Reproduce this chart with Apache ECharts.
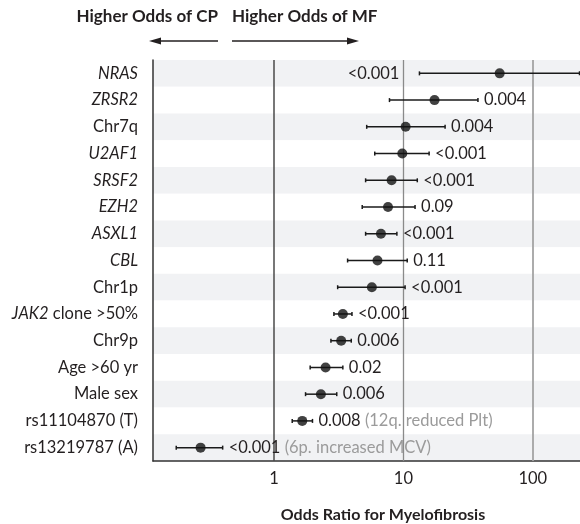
<!DOCTYPE html>
<html>
<head>
<meta charset="utf-8">
<script src="https://cdn.jsdelivr.net/npm/echarts@6/dist/echarts.min.js"></script>
<style>
  html, body { margin: 0; padding: 0; background: #fff; }
  #chart { width: 580px; height: 524px; }
</style>
</head>
<body>
<div id="chart"></div>
<script>
// rows, top to bottom
var categories = ['NRAS', 'ZRSR2', 'Chr7q', 'U2AF1', 'SRSF2', 'EZH2', 'ASXL1', 'CBL', 'Chr1p',
  'JAK2 clone >50%', 'Chr9p', 'Age >60 yr', 'Male sex', 'rs11104870 (T)', 'rs13219787 (A)'];
// part of the label set in italics (gene names)
var italicPart = ['NRAS', 'ZRSR2', '', 'U2AF1', 'SRSF2', 'EZH2', 'ASXL1', 'CBL', '', 'JAK2', '', '', '', '', ''];

var oddsRatio = [55.5, 17.4, 10.4, 9.8, 8.1, 7.6, 6.7, 6.3, 5.7, 3.4, 3.3, 2.5, 2.3, 1.65, 0.27];
var ciLow = [13.3, 7.8, 5.2, 6.0, 5.1, 4.8, 5.1, 3.7, 3.1, 2.9, 2.75, 1.9, 1.75, 1.38, 0.175];
var ciHigh = [230, 37.7, 21.0, 15.8, 12.8, 12.3, 8.9, 10.7, 10.3, 4.0, 3.95, 3.4, 3.05, 1.98, 0.40];
var pValues = ['<0.001', '0.004', '0.004', '<0.001', '<0.001', '0.09', '<0.001', '0.11', '<0.001',
  '<0.001', '0.006', '0.02', '0.006', '0.008', '<0.001'];
var notes = ['', '', '', '', '', '', '', '', '', '', '', '', '', '(12q. reduced Plt)', '(6p. increased MCV)'];

var xTicks = [1, 10, 100];

var FONT = 'Lato';
var FS = 16.5;
var INK = '#231f20';

var chart = echarts.init(document.getElementById('chart'));

var ciData = categories.map(function (c, i) { return [ciLow[i], ciHigh[i], i]; });
var dotData = categories.map(function (c, i) { return [oddsRatio[i], i]; });

var option = {
  animation: false,
  grid: { left: 153, right: 0, top: 60, bottom: 63 },
  xAxis: {
    type: 'log',
    logBase: 10,
    min: 0.1157,
    max: 232,
    axisLine: { show: true, lineStyle: { color: '#333', width: 1.5 } },
    axisTick: { show: false },
    splitLine: { show: false },
    axisLabel: {
      margin: 9,
      fontFamily: FONT,
      fontSize: FS,
      color: INK,
      showMinLabel: false,
      showMaxLabel: false,
      formatter: function (v) {
        var r = Math.round(v * 1000) / 1000;
        return xTicks.indexOf(r) >= 0 ? String(r) : '';
      }
    }
  },
  yAxis: {
    type: 'category',
    data: categories,
    inverse: true,
    axisLine: { show: true, lineStyle: { color: '#333', width: 1.5 } },
    axisTick: { show: false },
    splitLine: { show: false },
    splitArea: { show: true, areaStyle: { color: ['#f1f2f4', '#ffffff'] } },
    axisLabel: {
      margin: 15,
      fontFamily: FONT,
      fontSize: FS,
      color: INK,
      formatter: function (v, i) {
        var it = italicPart[i];
        if (!it) return '{n|' + v + '}';
        var rest = v.slice(it.length);
        return '{i|' + it + '}' + (rest ? '{n|' + rest + '}' : '');
      },
      rich: {
        i: { fontStyle: 'italic', fontFamily: FONT, fontSize: FS, color: INK },
        n: { fontFamily: FONT, fontSize: FS, color: INK }
      }
    }
  },
  series: [
    {
      type: 'custom',
      name: 'ci',
      data: ciData,
      encode: { x: [0, 1], y: 2 },
      silent: true,
      z: 3,
      renderItem: function (params, api) {
        var i = api.value(2);
        var a = api.coord([api.value(0), i]);
        var b = api.coord([api.value(1), i]);
        var cap = 2;
        var st = { stroke: '#1a1a1a', lineWidth: 1.5 };
        var children = [
          { type: 'line', shape: { x1: a[0], y1: a[1], x2: b[0], y2: b[1] }, style: st },
          { type: 'line', shape: { x1: a[0], y1: a[1] - cap, x2: a[0], y2: a[1] + cap }, style: st },
          { type: 'line', shape: { x1: b[0], y1: b[1] - cap, x2: b[0], y2: b[1] + cap }, style: st }
        ];
        var offRight = api.value(1) >= 200;
        var txt = '{p|' + pValues[i] + '}' + (notes[i] ? '{g| ' + notes[i] + '}' : '');
        children.push({
          type: 'text',
          x: offRight ? a[0] - 20 : b[0] + 6,
          y: a[1],
          style: {
            text: txt,
            align: offRight ? 'right' : 'left',
            verticalAlign: 'middle',
            fontFamily: FONT,
            fontSize: FS,
            rich: {
              p: { fontFamily: FONT, fontSize: FS, fill: INK },
              g: { fontFamily: FONT, fontSize: FS, fill: '#9b9b9b' }
            }
          }
        });
        return { type: 'group', children: children };
      }
    },
    {
      type: 'scatter',
      name: 'or',
      data: dotData,
      symbol: 'circle',
      symbolSize: 10,
      itemStyle: { color: '#111' },
      silent: true,
      z: 4,
      markLine: {
        silent: true,
        symbol: 'none',
        label: { show: false },
        z: 2,
        data: [
          { xAxis: xTicks[0], lineStyle: { color: '#4a4a4a', width: 1.5, type: 'solid' } },
          { xAxis: xTicks[1], lineStyle: { color: '#8a8a8a', width: 1.3, type: 'solid' } },
          { xAxis: xTicks[2], lineStyle: { color: '#a3a3a3', width: 1.8, type: 'solid' } }
        ]
      }
    }
  ],
  graphic: [
    {
      type: 'text', x: 218, y: 17,
      style: { text: 'Higher Odds of CP', align: 'right', verticalAlign: 'middle',
        fontFamily: FONT, fontSize: 17, fontWeight: 'bold', fill: INK }
    },
    {
      type: 'text', x: 232, y: 17,
      style: { text: 'Higher Odds of MF', align: 'left', verticalAlign: 'middle',
        fontFamily: FONT, fontSize: 17, fontWeight: 'bold', fill: INK }
    },
    { type: 'line', shape: { x1: 160, y1: 41, x2: 218, y2: 41 }, style: { stroke: '#231f20', lineWidth: 1.5 } },
    { type: 'polygon', shape: { points: [[149, 41], [161, 37.5], [161, 44.5]] }, style: { fill: '#231f20' } },
    { type: 'line', shape: { x1: 232, y1: 41, x2: 348, y2: 41 }, style: { stroke: '#231f20', lineWidth: 1.5 } },
    { type: 'polygon', shape: { points: [[359, 41], [347, 37.5], [347, 44.5]] }, style: { fill: '#231f20' } },
    {
      type: 'text', x: 383, y: 515,
      style: { text: 'Odds Ratio for Myelofibrosis', align: 'center', verticalAlign: 'middle',
        fontFamily: FONT, fontSize: 16, fontWeight: 'bold', fill: INK }
    }
  ]
};

chart.setOption(option);
</script>
</body>
</html>
